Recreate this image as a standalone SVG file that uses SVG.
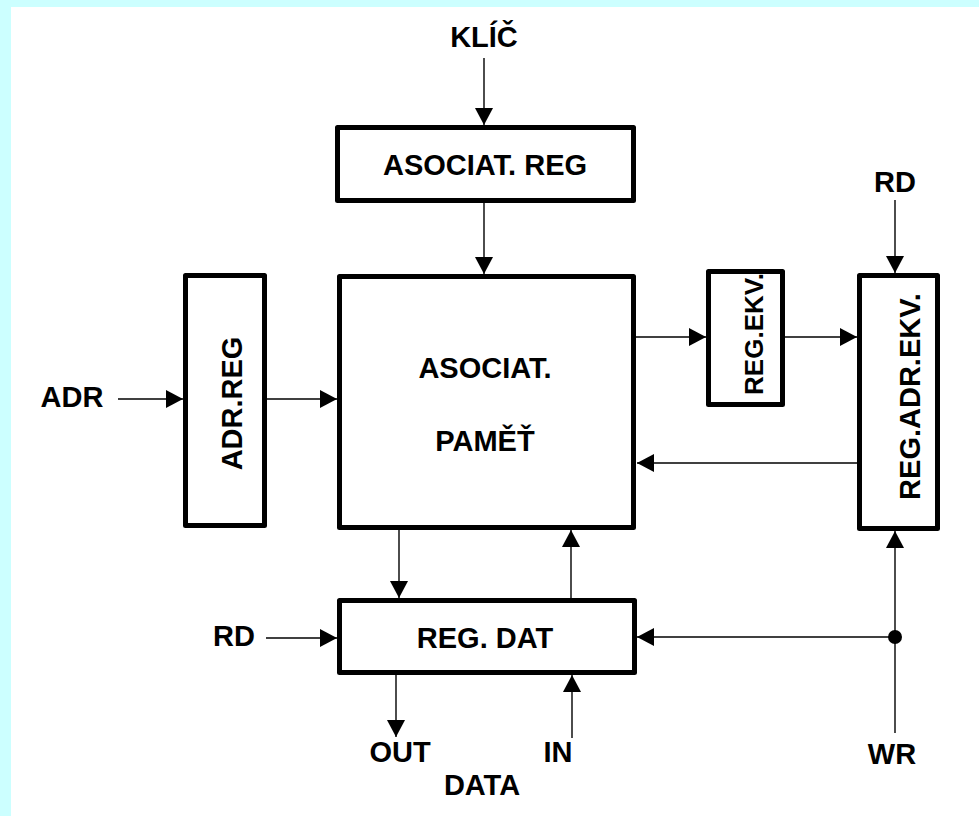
<svg xmlns="http://www.w3.org/2000/svg" width="979" height="816" viewBox="0 0 979 816">
<style>
.box{fill:#fff;stroke:#000;stroke-width:5;stroke-linejoin:round}
.ln{fill:none;stroke:#000;stroke-width:1.4}
.t{font-family:"Liberation Sans",Arial,sans-serif;font-weight:bold;font-size:29px;fill:#000;text-anchor:middle}
</style>
<defs>
<marker id="ah" markerUnits="userSpaceOnUse" markerWidth="17" markerHeight="18" refX="17" refY="9" orient="auto">
<path d="M0,0 L17,9 L0,18 z" fill="#000"/>
</marker>
</defs>
<rect x="0" y="0" width="979" height="816" fill="#ccffff"/>
<rect x="11" y="7" width="968" height="809" fill="#fff"/>

<g id="connectors">
<line class="ln" x1="484" y1="58" x2="484" y2="125" marker-end="url(#ah)"/>
<line class="ln" x1="484" y1="203" x2="484" y2="274" marker-end="url(#ah)"/>
<line class="ln" x1="118" y1="399" x2="183" y2="399" marker-end="url(#ah)"/>
<line class="ln" x1="267" y1="399" x2="337" y2="399" marker-end="url(#ah)"/>
<line class="ln" x1="636" y1="337" x2="706" y2="337" marker-end="url(#ah)"/>
<line class="ln" x1="785" y1="337" x2="857" y2="337" marker-end="url(#ah)"/>
<line class="ln" x1="857" y1="463" x2="637" y2="463" marker-end="url(#ah)"/>
<line class="ln" x1="895" y1="200" x2="895" y2="273" marker-end="url(#ah)"/>
<line class="ln" x1="895" y1="733" x2="895" y2="531" marker-end="url(#ah)"/>
<line class="ln" x1="895" y1="637" x2="637" y2="637" marker-end="url(#ah)"/>
<circle cx="895" cy="637" r="7" fill="#000"/>
<line class="ln" x1="266" y1="638" x2="337" y2="638" marker-end="url(#ah)"/>
<line class="ln" x1="399" y1="530" x2="399" y2="598" marker-end="url(#ah)"/>
<line class="ln" x1="571" y1="598" x2="571" y2="530" marker-end="url(#ah)"/>
<line class="ln" x1="396" y1="675" x2="396" y2="737" marker-end="url(#ah)"/>
<line class="ln" x1="572" y1="738" x2="572" y2="675" marker-end="url(#ah)"/>
</g>

<g id="asociat-reg">
<rect class="box" x="337.5" y="127.5" width="296" height="73"/>
<text class="t" x="485" y="175">ASOCIAT. REG</text>
</g>
<g id="asociat-pamet">
<rect class="box" x="339.5" y="276.5" width="294" height="251"/>
<text class="t" x="485" y="378">ASOCIAT.</text>
<text class="t" x="485" y="451">PAMĚŤ</text>
</g>
<g id="adr-reg">
<rect class="box" x="185.5" y="275.5" width="79" height="250"/>
<text class="t" transform="translate(242,403.5) rotate(-90)">ADR.REG</text>
</g>
<g id="reg-ekv">
<rect class="box" x="708.5" y="271.5" width="74" height="133"/>
<text class="t" transform="translate(763,334) rotate(-90)" style="font-size:26px">REG.EKV.</text>
</g>
<g id="reg-adr-ekv">
<rect class="box" x="859.5" y="275.5" width="78" height="253"/>
<text class="t" transform="translate(920,396.5) rotate(-90)">REG.ADR.EKV.</text>
</g>
<g id="reg-dat">
<rect class="box" x="339.5" y="600.5" width="295" height="72"/>
<text class="t" x="485" y="648">REG. DAT</text>
</g>
<g id="labels">
<text class="t" x="484" y="47">KLÍČ</text>
<text class="t" x="72" y="407">ADR</text>
<text class="t" x="895" y="192">RD</text>
<text class="t" x="234" y="646">RD</text>
<text class="t" x="892" y="764">WR</text>
<text class="t" x="400" y="762">OUT</text>
<text class="t" x="558" y="762">IN</text>
<text class="t" x="482" y="795">DATA</text>
</g>
</svg>
